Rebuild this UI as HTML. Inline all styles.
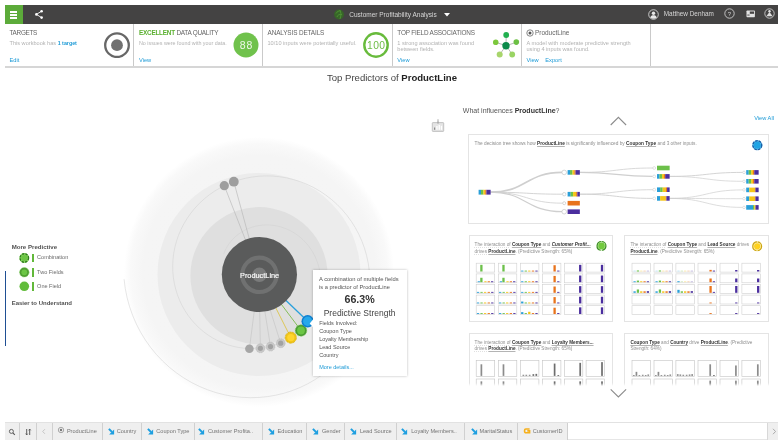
<!DOCTYPE html>
<html lang="en">
<head>
<meta charset="utf-8">
<title>Customer Profitability Analysis</title>
<style>
*{box-sizing:border-box;margin:0;padding:0}
html,body{width:783px;height:444px;overflow:hidden;background:#fff}
body{font-family:"Liberation Sans",sans-serif;color:#444;position:relative}
.abs{position:absolute}
.t{position:absolute;white-space:nowrap;line-height:1}
#topbar{position:absolute;left:5px;top:5px;width:773px;height:19px;background:#444343}
#menu{position:absolute;left:0;top:0;width:18px;height:19px;background:#5cab3a}
#menu i{position:absolute;left:5px;width:7.200px;height:1.500px;background:#fff}
.tb{color:#d6d6d6;font-size:6.5px}
#cards{position:absolute;left:5px;top:24px;width:773px;height:44px;border-bottom:2px solid #d6d6d6;background:#fff}
.card{position:absolute;top:0;height:42px;border-right:1px solid #cacaca}
.ct{font-size:6.4px;color:#646464;letter-spacing:-.2px}
.cs{font-size:5.6px;color:#b2b2b2}
.cl{font-size:5.7px;color:#1c9ad6}
b.g{color:#5bb030}
b.bl{color:#1c9ad6}
.h1{font-size:9.55px;color:#444}
.h1 b{color:#222}
.leg{font-size:5.55px;color:#6a6a6a}
.legb{font-size:6.1px;color:#505050;font-weight:bold}
.tip{position:absolute;left:313px;top:270px;width:93.600px;height:105.600px;background:#fff;box-shadow:0 0 2.500px rgba(0,0,0,.28)}
.tp{font-size:5.5px;color:#555}
.pc{position:absolute;background:#fff;border:1px solid #e4e4e4}
.pt{font-size:4.66px;color:#8e8e8e}
.pt b{color:#333;text-decoration:underline;text-decoration-color:#b4b4b4;text-decoration-thickness:.5px;text-underline-offset:.6px}
.pt i{font-weight:bold;color:#333;text-decoration:underline;text-decoration-color:#b4b4b4;text-decoration-thickness:.5px;text-underline-offset:.6px}
.pt u{text-decoration:underline dotted;text-decoration-color:#e0e0e0;text-decoration-thickness:.5px;text-underline-offset:.6px}
#bot{position:absolute;left:5px;top:422px;width:773px;height:18px;background:#fff;border-top:1px solid #e2e2e2;border-bottom:1px solid #e6e6e6}
.tab{position:absolute;top:0;height:17px;background:#efefef;border-right:.8px solid #d0d0d0}
.tl{font-size:5.6px;color:#747474;top:6.200px}
</style>
</head>
<body>

<!-- ================= TOP BAR ================= -->
<div id="topbar">
  <div id="menu"><i style="top:6px"></i><i style="top:9px"></i><i style="top:12px"></i></div>
  <svg class="abs" style="left:29px;top:4px" width="10" height="11" viewBox="0 0 10 11"><path d="M7.6 2.2 2.4 5.4 7.6 8.6" fill="none" stroke="#fff" stroke-width=".9"/><circle cx="7.6" cy="2.2" r="1.3" fill="#fff"/><circle cx="2.4" cy="5.4" r="1.3" fill="#fff"/><circle cx="7.6" cy="8.6" r="1.3" fill="#fff"/></svg>
  <svg class="abs" style="left:329px;top:4px" width="11" height="11" viewBox="0 0 11 11"><circle cx="5" cy="5.500" r="4.900" fill="#376628"/><path d="M2 4.500c1-2 3-3 5-2.300M3 8c.5-2 2.500-3 5-2.500M5.500 1c1.500 1.500 2 5 .5 9" fill="none" stroke="#4f9434" stroke-width=".9"/></svg>
  <span class="t tb" style="left:344.300px;top:7.100px">Customer Profitability Analysis</span>
  <svg class="abs" style="left:439px;top:8.300px" width="6" height="4" viewBox="0 0 6 4"><path d="M0 0h6L3 3.4z" fill="#fff"/></svg>
  <svg class="abs" style="left:643px;top:3.5px" width="11" height="11" viewBox="0 0 11 11"><circle cx="5.5" cy="5.5" r="4.8" fill="none" stroke="#e8e8e8" stroke-width=".8"/><circle cx="5.5" cy="4.2" r="1.7" fill="#e8e8e8"/><path d="M2.3 8.6c.4-2 1.6-2.4 3.2-2.4s2.8.4 3.2 2.4c-1.8 1.6-4.6 1.6-6.400 0z" fill="#e8e8e8"/></svg>
  <span class="t tb" style="left:658.800px;top:5.700px;font-size:6.4px">Matthew Denham</span>
  <svg class="abs" style="left:719px;top:3.100px" width="11" height="11" viewBox="0 0 11 11"><circle cx="5.500" cy="5.500" r="4.700" fill="none" stroke="#e0e0e0" stroke-width=".8"/><text x="5.500" y="7.700" font-size="6" fill="#d0d0d0" text-anchor="middle" font-family="Liberation Sans, sans-serif">?</text></svg>
  <svg class="abs" style="left:740.500px;top:5px" width="10" height="8" viewBox="0 0 10 8"><rect x=".5" y=".5" width="8.400" height="6.800" rx=".7" fill="#e2e2e2"/><rect x="3.800" y="1.500" width="4.200" height="2.300" fill="#444343"/><rect x="1.300" y="4.600" width="2.300" height=".9" fill="#444343"/></svg>
  <svg class="abs" style="left:759.300px;top:3.100px" width="11" height="11" viewBox="0 0 11 11"><circle cx="5.500" cy="5.500" r="4.700" fill="none" stroke="#e0e0e0" stroke-width=".8"/><circle cx="5.500" cy="3.300" r="1.200" fill="#e0e0e0"/><path d="M2.300 8.300 5.500 4 8.700 8.300z" fill="#e0e0e0"/></svg>
</div>

<!-- ================= CARDS ================= -->
<div id="cards">
  <div class="card" style="left:0;width:128.500px">
    <span class="t ct" style="left:4.500px;top:5.500px;letter-spacing:-.31px">TARGETS</span>
    <span class="t cs" style="left:4.500px;top:16.800px">This workbook has <b class="bl" style="font-size:5.300px">1 target</b></span>
    <span class="t cl" style="left:4.500px;top:33.500px">Edit</span>
    <svg class="abs" style="left:99px;top:7.500px" width="26" height="26" viewBox="0 0 26 26"><circle cx="13" cy="13.200" r="11.800" fill="#fff" stroke="#676767" stroke-width="2.300"/><circle cx="13" cy="13.200" r="5.900" fill="#707070"/></svg>
  </div>
  <div class="card" style="left:128.500px;width:129px">
    <span class="t ct" style="left:5.500px;top:5.500px;letter-spacing:-.24px"><b class="g">EXCELLENT</b> DATA QUALITY</span>
    <span class="t cs" style="left:5.500px;top:16.800px;font-size:5.35px">No issues were found with your data.</span>
    <span class="t cl" style="left:5.500px;top:33.500px">View</span>
    <svg class="abs" style="left:99.300px;top:7.500px" width="26" height="26" viewBox="0 0 26 26"><circle cx="13" cy="13" r="12.500" fill="#70c24c"/><text x="13.500" y="16.800" font-size="10.500" fill="#eef8e8" text-anchor="middle" letter-spacing=".9" font-family="Liberation Sans, sans-serif">88</text></svg>
  </div>
  <div class="card" style="left:257.500px;width:130px">
    <span class="t ct" style="left:5px;top:5.500px;letter-spacing:-.125px">ANALYSIS DETAILS</span>
    <span class="t cs" style="left:5px;top:16.800px">10/10 inputs were potentially useful.</span>
    <svg class="abs" style="left:100.500px;top:7.500px" width="26" height="26" viewBox="0 0 26 26"><circle cx="13" cy="13" r="11.700" fill="#fff" stroke="#68bb3c" stroke-width="2.400"/><text x="13.200" y="16.700" font-size="10.300" fill="#6cbc44" text-anchor="middle" letter-spacing=".4" font-family="Liberation Sans, sans-serif">100</text></svg>
  </div>
  <div class="card" style="left:387.500px;width:129.500px">
    <span class="t ct" style="left:4.800px;top:5.500px;letter-spacing:-.19px">TOP FIELD ASSOCIATIONS</span>
    <span class="t cs" style="left:4.800px;top:17.100px">1 strong association was found</span>
    <span class="t cs" style="left:4.800px;top:22.700px">between fields.</span>
    <span class="t cl" style="left:4.800px;top:33.500px">View</span>
    <svg class="abs" style="left:100px;top:7px" width="30" height="28" viewBox="0 0 30 28"><g stroke="#9a9a9a" stroke-width=".7"><path d="M13 14.700 13.200 4.200M13 14.700 23.500 11.300M13 14.700 2.700 11.300M13 14.700 6.700 23.500M13 14.700 19.400 23.500"/></g><circle cx="13.200" cy="4" r="2.900" fill="#22b050"/><circle cx="23.300" cy="11.100" r="2.800" fill="#6cc044"/><circle cx="2.700" cy="11.200" r="2.800" fill="#7cc83c"/><circle cx="6.700" cy="23.500" r="3" fill="#a8d56c"/><circle cx="19.200" cy="23.500" r="2.900" fill="#9ad464"/><circle cx="13" cy="14.700" r="3.700" fill="#0b8a4a"/></svg>
  </div>
  <div class="card" style="left:517px;width:129px">
    <svg class="abs" style="left:4px;top:5px" width="8" height="8" viewBox="0 0 8 8"><circle cx="4" cy="4" r="3.200" fill="none" stroke="#555" stroke-width=".7"/><circle cx="4" cy="4" r="1.500" fill="#555"/></svg>
    <span class="t ct" style="left:13px;top:5.600px;font-size:6.45px;letter-spacing:0">ProductLine</span>
    <span class="t cs" style="left:4.500px;top:17.100px">A model with moderate predictive strength</span>
    <span class="t cs" style="left:4.500px;top:22.700px">using 4 inputs was found.</span>
    <span class="t cl" style="left:4.500px;top:33.500px">View</span>
    <span class="t cl" style="left:23.300px;top:33.500px">Export</span>
  </div>
</div>

<span class="t h1" style="left:327px;top:72.900px">Top Predictors of <b>ProductLine</b></span>
<svg class="abs" style="left:0;top:90px" width="460" height="330" viewBox="0 90 460 330">
<defs><radialGradient id="og" cx="259" cy="272" r="135" gradientUnits="userSpaceOnUse"><stop offset="0" stop-color="#f4f4f4"/><stop offset=".86" stop-color="#f5f5f5"/><stop offset=".95" stop-color="#f9f9f9"/><stop offset="1" stop-color="#ffffff"/></radialGradient></defs>
<circle cx="259" cy="272" r="135" fill="url(#og)"/>
<circle cx="259" cy="274.5" r="101.500" fill="#ececec"/>
<circle cx="259" cy="275.7" r="68.600" fill="#dfdfdf"/>
<path d="M223.71 254.12 L224.76 251.41 L226.02 248.74 L227.5 246.13 L229.17 243.61 L231.05 241.18 L233.12 238.87 L235.37 236.69 L237.81 234.65 L240.42 232.77 L243.19 231.06 L246.11 229.53 L249.16 228.21 L252.34 227.09 L255.62 226.2 L259 225.53 L262.45 225.1 L265.97 224.92 L269.52 224.99 L273.1 225.32 L276.69 225.91 L280.26 226.76 L283.79 227.88 L287.27 229.25 L290.68 230.89 L294 232.79 L297.2 234.94 L300.28 237.33 L303.2 239.97 L305.96 242.83 L308.53 245.91 L310.89 249.19 L313.04 252.67 L314.95 256.32 L316.62 260.13 L318.02 264.09 L319.15 268.18 L319.99 272.37 L320.54 276.65 L320.78 280.99 L320.72 285.38 L320.34 289.79 L319.65 294.2 L318.63 298.59 L317.3 302.93 L315.65 307.2 L313.68 311.38 L311.41 315.45 L308.83 319.37 L305.96 323.13 L302.81 326.71 L299.38 330.08 L295.69 333.22 L291.77 336.12 L287.61 338.76 L283.25 341.11 L278.69 343.17 L273.97 344.91 L269.09 346.33 L264.1 347.4 L259 348.13 L253.83 348.5 L248.6 348.5 L243.35 348.13 L238.1 347.38 L232.88 346.26 L227.71 344.77 L222.63 342.9 L217.66 340.66 L212.82 338.06 L208.15 335.1 L203.66 331.8 L199.4 328.17 L195.36 324.22 L191.6 319.96 L188.12 315.43 L184.94 310.62 L182.09 305.57 L179.59 300.3 L177.45 294.83 L175.7 289.19 L174.33 283.4 L173.37 277.49 L172.82 271.49 L172.69 265.43 L173 259.34 L173.73 253.24 L174.9 247.17 L176.5 241.17 L178.54 235.26 L181 229.47 L183.87 223.83 L187.16 218.37 L190.84 213.13 L194.91 208.13 L199.34 203.4 L204.13 198.97 L209.24 194.86 L214.66 191.1 L220.36 187.71 L226.32 184.71 L232.51 182.12 L238.91 179.97 L245.47 178.25 L252.18 177 L259 176.21 L265.89 175.9 L272.83 176.08 L279.78 176.75 L286.7 177.91 L293.55 179.56 L300.32 181.7 L306.95 184.33 L313.41 187.43 L319.67 190.99 L325.7 195.01 L331.47 199.46 L336.93 204.33 L342.07 209.6 L346.85 215.25 L351.24 221.24 L355.22 227.57 L358.77 234.19 L361.86 241.08 L364.47 248.2 L366.59 255.53 L368.2 263.02 L369.28 270.65 L369.83 278.37 L369.83 286.15 L369.29 293.95 L368.2 301.73 L366.55 309.45 L364.36 317.07 L361.63 324.55 L358.36 331.87 L354.57 338.96 L350.27 345.81 L345.48 352.37 L340.22 358.61 L334.51 364.49 L328.37 369.98 L321.83 375.05 L314.92 379.67 L307.67 383.82 L300.11 387.46 L292.29 390.58 L284.22 393.16 L275.96 395.17 L267.54 396.6 L259 397.45 L250.39 397.7 L241.74 397.34 L233.1 396.37 L224.51 394.79 L216.01 392.61 L207.65 389.82 L199.48 386.45 L191.52 382.49 L183.83 377.96 L176.45 372.88 L169.4 367.28 L162.74 361.17 L156.5 354.58 L150.71 347.54 L145.4 340.08 L140.61 332.24 L136.37 324.05 L132.69 315.54 L129.6 306.76 L127.12 297.75 L125.28 288.55 L124.08 279.21" fill="none" stroke="#d2d2d2" stroke-width=".55"/>
<path d="M224.3 185.7 L245.9 240.97" stroke="#b4b4b4" stroke-width=".6" fill="none"/>
<path d="M233.8 181.7 L249.57 239.76" stroke="#b4b4b4" stroke-width=".6" fill="none"/>
<path d="M249.4 348.8 L254.39 310.2" stroke="#c2c2c2" stroke-width=".6" fill="none"/>
<path d="M260.4 348.3 L259.68 310.49" stroke="#c2c2c2" stroke-width=".6" fill="none"/>
<path d="M270.5 346.6 L264.67 310.05" stroke="#c2c2c2" stroke-width=".6" fill="none"/>
<path d="M280.7 343.2 L269.84 308.83" stroke="#c2c2c2" stroke-width=".6" fill="none"/>
<path d="M290.8 337.6 L275.2 306.65" stroke="#dcc44a" stroke-width=".9" fill="none"/>
<path d="M301 330.5 L280.6 303.3" stroke="#7cba4c" stroke-width=".9" fill="none"/>
<path d="M307.7 321.3 L284.96 299.44" stroke="#2aa0dc" stroke-width="1.3" fill="none"/>
<circle cx="259.4" cy="274.5" r="37.600" fill="#5a5b5b"/>
<circle cx="259.4" cy="274.8" r="17.200" fill="none" stroke="#707171" stroke-width="4.200"/>
<circle cx="259.4" cy="274.8" r="7.200" fill="#7a7b7b"/>
<circle cx="224.3" cy="185.7" r="4.6" fill="#9e9e9e"/>
<circle cx="233.8" cy="181.7" r="4.9" fill="#9e9e9e"/>
<circle cx="249.4" cy="348.8" r="4.300" fill="#a6a6a6"/>
<circle cx="260.4" cy="348.3" r="4.500" fill="#c8c8c8" stroke="#b0b0b0" stroke-width=".5" stroke-dasharray="1.600 .7"/>
<circle cx="260.4" cy="348.3" r="2.600" fill="#a2a2a2"/>
<circle cx="270.5" cy="346.6" r="4.500" fill="#c8c8c8" stroke="#b0b0b0" stroke-width=".5" stroke-dasharray="1.600 .7"/>
<circle cx="270.5" cy="346.6" r="2.600" fill="#a2a2a2"/>
<circle cx="280.7" cy="343.2" r="4.500" fill="#c8c8c8" stroke="#b0b0b0" stroke-width=".5" stroke-dasharray="1.600 .7"/>
<circle cx="280.7" cy="343.2" r="2.600" fill="#a2a2a2"/>
<circle cx="290.8" cy="337.6" r="5.600" fill="#f0c419" stroke="#d9ae0a" stroke-width=".7" stroke-dasharray="3 .8"/>
<circle cx="290.8" cy="337.6" r="3.600" fill="#ffd52e"/>
<circle cx="301" cy="330.5" r="5.800" fill="#4a9a32" />
<circle cx="301" cy="330.5" r="5.800" fill="none" stroke="#7fce5a" stroke-width=".6" stroke-dasharray="2.400 1.200"/>
<circle cx="301" cy="330.5" r="3.900" fill="#6cc644"/>
<circle cx="307.7" cy="321.3" r="6.200" fill="#0f7fd0"/>
<circle cx="307.7" cy="321.3" r="4.700" fill="#27a8ea"/>
<text x="259.6" y="277.500" font-size="7.350" fill="#fff" text-anchor="middle" font-family="Liberation Sans, sans-serif" stroke="#fff" stroke-width=".15">ProductLine</text>
</svg>
<svg class="abs" style="left:431px;top:118px" width="14" height="15" viewBox="0 0 14 15"><rect x="1.300" y="4.600" width="11.400" height="8.800" rx=".6" fill="#e4e4e4" stroke="#bdbdbd" stroke-width=".9"/><rect x="3" y="9.500" width="1.200" height="2.300" fill="#8a8a8a"/><rect x="5.300" y="8" width="1.300" height="3.800" fill="#fff"/><rect x="7.600" y="7" width="1.300" height="4.800" fill="#fff"/><rect x="9.800" y="7.800" width="1.300" height="4" fill="#fff"/><path d="M7 1.200v4" stroke="#bdbdbd" stroke-width="1.300"/><circle cx="7" cy="4.600" r="1.100" fill="#b0b0b0"/></svg>
<div class="abs" style="left:4.700px;top:271.300px;width:1.500px;height:74.500px;background:#1f4f93"></div>
<span class="t legb" style="left:11.700px;top:244.200px">More Predictive</span>
<span class="t legb" style="left:11.700px;top:300.100px;font-size:6px">Easier to Understand</span>
<div class="abs" style="left:32.300px;top:253.7px;width:1.400px;height:8.800px;background:#62b83a"></div>
<span class="t leg" style="left:37.100px;top:254.7px">Combination</span>
<div class="abs" style="left:32.300px;top:268.1px;width:1.400px;height:8.800px;background:#62b83a"></div>
<span class="t leg" style="left:37.100px;top:269.5px">Two Fields</span>
<div class="abs" style="left:32.300px;top:282.3px;width:1.400px;height:8.800px;background:#62b83a"></div>
<span class="t leg" style="left:37.100px;top:283.8px">One Field</span>
<svg class="abs" style="left:18px;top:251px" width="14" height="42" viewBox="18 251 14 42">
<circle cx="24.300" cy="258" r="4.900" fill="#8ad662"/><circle cx="24.300" cy="258" r="4.200" fill="none" stroke="#2f7d1e" stroke-width="1.400" stroke-dasharray="2.300 1.100"/><circle cx="24.300" cy="258" r="3.100" fill="#6cc644"/>
<circle cx="24.300" cy="272.300" r="4.800" fill="#4f9e32"/><circle cx="24.300" cy="272.300" r="4.800" fill="none" stroke="#8ad868" stroke-width=".5" stroke-dasharray="2.500 1"/><circle cx="24.300" cy="272.300" r="2.900" fill="#6cc644"/>
<circle cx="24.300" cy="286.300" r="4.800" fill="#62bc3c"/>
</svg>
<div class="tip">
<span class="t tp" style="left:6px;top:7px;font-size:5.800px">A combination of multiple fields</span>
<span class="t tp" style="left:6px;top:15.100px;font-size:5.700px">is a predictor of ProductLine</span>
<span class="t" style="left:-.6px;width:94.400px;text-align:center;top:23.500px;font-size:10.700px;font-weight:bold;color:#333">66.3%</span>
<span class="t" style="left:-.6px;width:94.400px;text-align:center;top:38.500px;font-size:8.500px;color:#444">Predictive Strength</span>
<span class="t tp" style="left:6.200px;top:51px">Fields Involved:</span>
<span class="t tp" style="left:6.200px;top:59px">Coupon Type</span>
<span class="t tp" style="left:6.200px;top:67px">Loyalty Membership</span>
<span class="t tp" style="left:6.200px;top:75px">Lead Source</span>
<span class="t tp" style="left:6.200px;top:83px">Country</span>
<span class="t tp" style="left:6.200px;top:94.900px;color:#1c9ad6">More details...</span>
</div>
<svg class="abs" style="left:307px;top:317px" width="6" height="11" viewBox="0 0 6 11"><path d="M6 2.600 2.700 6.400 6 10.200z" fill="#fff"/></svg>
<span class="t" style="left:462.800px;top:107.300px;font-size:7.030px;color:#555">What influences <b style="color:#333">ProductLine</b>?</span>
<span class="t" style="left:754.200px;top:116.100px;font-size:5.670px;color:#1c9ad6">View All</span>
<svg class="abs" style="left:608px;top:115px" width="21" height="12" viewBox="0 0 21 12"><path d="M2.700 10 10.400 2.300 18.100 10" fill="none" stroke="#8c8c8c" stroke-width="1.100"/></svg>
<div class="pc" style="left:468px;top:134px;width:301px;height:90px"></div>
<span class="t pt" style="left:474.500px;top:142.200px;font-size:4.760px">The decision tree shows how <b>ProductLine</b> is significantly influenced by <b>Coupon Type</b> and 3 other inputs.</span>
<svg class="abs" style="left:468px;top:134px" width="301" height="90" viewBox="468 134 301 90">
<path d="M490.6 192.2 C526.25 192.2 526.25 172.4 561.9 172.4" fill="none" stroke="#cfcfcf" stroke-width="1.7"/>
<path d="M490.6 192.2 C526.55 192.2 526.55 194.2 562.5 194.2" fill="none" stroke="#cfcfcf" stroke-width="0.9"/>
<path d="M490.6 192.2 C526.65 192.2 526.65 203.2 562.7 203.2" fill="none" stroke="#cfcfcf" stroke-width="0.8"/>
<path d="M490.6 192.2 C526.25 192.2 526.25 211.7 561.9 211.7" fill="none" stroke="#cfcfcf" stroke-width="1.2"/>
<path d="M579.8 172.4 C616.35 172.4 616.35 168 652.9 168" fill="none" stroke="#cfcfcf" stroke-width="0.8"/>
<path d="M579.8 172.4 C616.2 172.4 616.2 176.4 652.6 176.4" fill="none" stroke="#cfcfcf" stroke-width="1.1"/>
<path d="M579.8 194.2 C616.35 194.2 616.35 189.7 652.9 189.7" fill="none" stroke="#cfcfcf" stroke-width="0.8"/>
<path d="M579.8 194.2 C616.25 194.2 616.25 198.4 652.7 198.4" fill="none" stroke="#cfcfcf" stroke-width="0.9"/>
<path d="M669.6 176.4 C706.15 176.4 706.15 172.4 742.7 172.4" fill="none" stroke="#cfcfcf" stroke-width="0.9"/>
<path d="M669.6 176.4 C706.15 176.4 706.15 181.3 742.7 181.3" fill="none" stroke="#cfcfcf" stroke-width="0.7"/>
<path d="M669.6 198.4 C706.15 198.4 706.15 189.9 742.7 189.9" fill="none" stroke="#cfcfcf" stroke-width="0.7"/>
<path d="M669.6 198.4 C706.15 198.4 706.15 198.7 742.7 198.7" fill="none" stroke="#cfcfcf" stroke-width="0.7"/>
<path d="M669.6 198.4 C706.15 198.4 706.15 207.4 742.7 207.4" fill="none" stroke="#cfcfcf" stroke-width="0.7"/>
<rect x="478.6" y="189.8" width="2.45" height="4.8" fill="#2a9fd8"/>
<rect x="481" y="189.8" width="2.45" height="4.8" fill="#6cc04a"/>
<rect x="483.4" y="189.8" width="1.85" height="4.8" fill="#f5c518"/>
<rect x="485.2" y="189.8" width="1.25" height="4.8" fill="#e8731c"/>
<rect x="486.4" y="189.8" width="4.25" height="4.8" fill="#4b2e9e"/>
<circle cx="564.2" cy="172.4" r="2.3" fill="#fff" stroke="#bdbdbd" stroke-width=".6"/>
<rect x="567.6" y="170.1" width="2.49" height="4.6" fill="#2a9fd8"/>
<rect x="570.04" y="170.1" width="2.49" height="4.6" fill="#6cc04a"/>
<rect x="572.48" y="170.1" width="1.88" height="4.6" fill="#f5c518"/>
<rect x="574.31" y="170.1" width="1.27" height="4.6" fill="#e8731c"/>
<rect x="575.53" y="170.1" width="4.32" height="4.6" fill="#4b2e9e"/>
<circle cx="564.2" cy="194.2" r="1.7" fill="#fff" stroke="#bdbdbd" stroke-width=".6"/>
<rect x="567.6" y="191.9" width="3.1" height="4.6" fill="#2a9fd8"/>
<rect x="570.65" y="191.9" width="2.49" height="4.6" fill="#6cc04a"/>
<rect x="573.09" y="191.9" width="3.1" height="4.6" fill="#f5c518"/>
<rect x="576.14" y="191.9" width="1.27" height="4.6" fill="#e8731c"/>
<rect x="577.36" y="191.9" width="2.49" height="4.6" fill="#4b2e9e"/>
<circle cx="564.2" cy="203.2" r="1.5" fill="#fff" stroke="#bdbdbd" stroke-width=".6"/>
<rect x="567.6" y="200.9" width="12.25" height="4.6" fill="#e8731c"/>
<circle cx="564.2" cy="211.7" r="2.3" fill="#fff" stroke="#bdbdbd" stroke-width=".6"/>
<rect x="567.6" y="209.4" width="12.25" height="4.6" fill="#4b2e9e"/>
<circle cx="654.2" cy="168" r="1.400" fill="#fff" stroke="#c4c4c4" stroke-width=".5"/>
<rect x="657" y="165.7" width="12.65" height="4.6" fill="#6cc04a"/>
<circle cx="654.2" cy="176.4" r="1.400" fill="#fff" stroke="#c4c4c4" stroke-width=".5"/>
<rect x="657" y="174.1" width="2.57" height="4.6" fill="#2a9fd8"/>
<rect x="659.52" y="174.1" width="2.57" height="4.6" fill="#6cc04a"/>
<rect x="662.04" y="174.1" width="1.94" height="4.6" fill="#f5c518"/>
<rect x="663.93" y="174.1" width="1.31" height="4.6" fill="#e8731c"/>
<rect x="665.19" y="174.1" width="4.46" height="4.6" fill="#4b2e9e"/>
<circle cx="654.2" cy="189.7" r="1.400" fill="#fff" stroke="#c4c4c4" stroke-width=".5"/>
<rect x="657" y="187.4" width="3.2" height="4.6" fill="#2a9fd8"/>
<rect x="660.15" y="187.4" width="2.57" height="4.6" fill="#6cc04a"/>
<rect x="662.67" y="187.4" width="3.2" height="4.6" fill="#f5c518"/>
<rect x="665.82" y="187.4" width="1.31" height="4.6" fill="#e8731c"/>
<rect x="667.08" y="187.4" width="2.57" height="4.6" fill="#4b2e9e"/>
<circle cx="654.2" cy="198.4" r="1.400" fill="#fff" stroke="#c4c4c4" stroke-width=".5"/>
<rect x="657" y="196.1" width="3.2" height="4.6" fill="#2a9fd8"/>
<rect x="660.15" y="196.1" width="5.72" height="4.6" fill="#f5c518"/>
<rect x="665.82" y="196.1" width="0.68" height="4.6" fill="#e8731c"/>
<rect x="666.45" y="196.1" width="3.2" height="4.6" fill="#4b2e9e"/>
<circle cx="744" cy="172.4" r="1.300" fill="#fff" stroke="#c4c4c4" stroke-width=".5"/>
<rect x="746.2" y="170.1" width="2.53" height="4.6" fill="#2a9fd8"/>
<rect x="748.68" y="170.1" width="2.53" height="4.6" fill="#6cc04a"/>
<rect x="751.16" y="170.1" width="1.91" height="4.6" fill="#f5c518"/>
<rect x="753.02" y="170.1" width="1.29" height="4.6" fill="#e8731c"/>
<rect x="754.26" y="170.1" width="4.39" height="4.6" fill="#4b2e9e"/>
<circle cx="744" cy="181.3" r="1.300" fill="#fff" stroke="#c4c4c4" stroke-width=".5"/>
<rect x="746.2" y="179" width="2.53" height="4.6" fill="#2a9fd8"/>
<rect x="748.68" y="179" width="2.53" height="4.6" fill="#6cc04a"/>
<rect x="751.16" y="179" width="1.91" height="4.6" fill="#f5c518"/>
<rect x="753.02" y="179" width="1.29" height="4.6" fill="#e8731c"/>
<rect x="754.26" y="179" width="4.39" height="4.6" fill="#4b2e9e"/>
<circle cx="744" cy="189.9" r="1.300" fill="#fff" stroke="#c4c4c4" stroke-width=".5"/>
<rect x="746.2" y="187.6" width="3.15" height="4.6" fill="#2a9fd8"/>
<rect x="749.3" y="187.6" width="5.63" height="4.6" fill="#f5c518"/>
<rect x="754.88" y="187.6" width="0.67" height="4.6" fill="#e8731c"/>
<rect x="755.5" y="187.6" width="3.15" height="4.6" fill="#4b2e9e"/>
<circle cx="744" cy="198.7" r="1.300" fill="#fff" stroke="#c4c4c4" stroke-width=".5"/>
<rect x="746.2" y="196.4" width="3.15" height="4.6" fill="#2a9fd8"/>
<rect x="749.3" y="196.4" width="5.63" height="4.6" fill="#f5c518"/>
<rect x="754.88" y="196.4" width="0.67" height="4.6" fill="#e8731c"/>
<rect x="755.5" y="196.4" width="3.15" height="4.6" fill="#4b2e9e"/>
<circle cx="744" cy="207.4" r="1.300" fill="#fff" stroke="#c4c4c4" stroke-width=".5"/>
<rect x="746.2" y="205.1" width="6.87" height="4.6" fill="#2a9fd8"/>
<rect x="753.02" y="205.1" width="1.29" height="4.6" fill="#6cc04a"/>
<rect x="754.26" y="205.1" width="1.29" height="4.6" fill="#f5c518"/>
<rect x="755.5" y="205.1" width="3.15" height="4.6" fill="#4b2e9e"/>
<circle cx="757.300" cy="145.200" r="5" fill="#6cc4f0"/><circle cx="757.300" cy="145.200" r="4.400" fill="none" stroke="#1a5fa6" stroke-width="1.400" stroke-dasharray="2.700 .9"/><circle cx="757.300" cy="145.200" r="3.500" fill="#1fa4e4"/>
</svg>
<div class="pc" style="left:469px;top:235px;width:144px;height:87px"></div>
<div class="pc" style="left:624px;top:235px;width:145px;height:87px"></div>
<span class="t pt" style="left:474.600px;top:243.200px"><u>The interaction of</u> <b>Coupon Type</b> and <i>Customer Profit...</i></span>
<span class="t pt" style="left:474.600px;top:249.800px"><u>drives</u> <b>ProductLine</b>. (Predictive Strength: 65%)</span>
<span class="t pt" style="left:630.400px;top:243.200px"><u>The interaction of</u> <b>Coupon Type</b> and <b>Lead Source</b> drives</span>
<span class="t pt" style="left:630.400px;top:249.800px"><b>ProductLine</b>. (Predictive Strength: 65%)</span>
<svg class="abs" style="left:468px;top:235px" width="302" height="88" viewBox="468 235 302 88">
<circle cx="601.500" cy="245.900" r="4.900" fill="#d2efc0"/><circle cx="601.500" cy="245.900" r="4.400" fill="none" stroke="#3f8f26" stroke-width="1.200" stroke-dasharray="12.500 1.300" transform="rotate(-84 601.500 245.900)"/><circle cx="601.500" cy="245.900" r="3.300" fill="#72ca3e"/>
<circle cx="757.200" cy="246.300" r="4.900" fill="#fbeeb4"/><circle cx="757.200" cy="246.300" r="4.400" fill="none" stroke="#cca612" stroke-width="1.200" stroke-dasharray="12.500 1.300" transform="rotate(-84 757.200 246.300)"/><circle cx="757.200" cy="246.300" r="3.100" fill="#ffd21e"/>
<rect x="476.2" y="263.2" width="18.5" height="8.9" fill="#fff" stroke="#cfcfcf" stroke-width=".6"/>
<rect x="480.23" y="264.84" width="2.3" height="6.66" fill="#6cc04a"/>
<rect x="498.3" y="263.2" width="18.5" height="8.9" fill="#fff" stroke="#cfcfcf" stroke-width=".6"/>
<rect x="502.33" y="264.84" width="2.3" height="6.66" fill="#6cc04a"/>
<rect x="520.4" y="263.2" width="18.5" height="8.9" fill="#fff" stroke="#cfcfcf" stroke-width=".6"/>
<rect x="521.1" y="270.6" width="2.3" height="0.9" fill="#2a9fd8"/>
<rect x="524.62" y="270.6" width="2.3" height="0.9" fill="#6cc04a"/>
<rect x="528.13" y="270.6" width="2.3" height="0.9" fill="#f5c518"/>
<rect x="531.83" y="270.6" width="2.3" height="0.9" fill="#e8731c"/>
<rect x="535.35" y="270.6" width="2.3" height="0.9" fill="#4b2e9e"/>
<rect x="542.4" y="263.2" width="18.5" height="8.9" fill="#fff" stroke="#cfcfcf" stroke-width=".6"/>
<rect x="553.46" y="265.21" width="2.3" height="6.29" fill="#e8731c"/>
<rect x="557.16" y="270.6" width="2.3" height="0.9" fill="#4b2e9e"/>
<rect x="564.3" y="263.2" width="18.5" height="8.9" fill="#fff" stroke="#cfcfcf" stroke-width=".6"/>
<rect x="579.06" y="264.84" width="2.3" height="6.66" fill="#4b2e9e"/>
<rect x="586.1" y="263.2" width="18.5" height="8.9" fill="#fff" stroke="#cfcfcf" stroke-width=".6"/>
<rect x="600.86" y="264.84" width="2.3" height="6.66" fill="#4b2e9e"/>
<rect x="476.2" y="273.9" width="18.5" height="8.9" fill="#fff" stroke="#cfcfcf" stroke-width=".6"/>
<rect x="480.23" y="277.76" width="2.3" height="4.44" fill="#6cc04a"/>
<rect x="484.3" y="281.3" width="2.3" height="0.9" fill="#f5c518"/>
<rect x="487.63" y="281.3" width="2.3" height="0.9" fill="#e8731c"/>
<rect x="490.96" y="281.3" width="2.3" height="0.9" fill="#4b2e9e"/>
<rect x="477.64" y="281.3" width="2.3" height="0.9" fill="#2a9fd8"/>
<rect x="498.3" y="273.9" width="18.5" height="8.9" fill="#fff" stroke="#cfcfcf" stroke-width=".6"/>
<rect x="502.33" y="277.76" width="2.3" height="4.44" fill="#6cc04a"/>
<rect x="506.4" y="281.3" width="2.3" height="0.9" fill="#f5c518"/>
<rect x="509.73" y="281.3" width="2.3" height="0.9" fill="#e8731c"/>
<rect x="513.06" y="281.3" width="2.3" height="0.9" fill="#4b2e9e"/>
<rect x="499.74" y="281.3" width="2.3" height="0.9" fill="#2a9fd8"/>
<rect x="520.4" y="273.9" width="18.5" height="8.9" fill="#fff" stroke="#cfcfcf" stroke-width=".6"/>
<rect x="521.1" y="281.3" width="2.3" height="0.9" fill="#2a9fd8"/>
<rect x="524.62" y="281.3" width="2.3" height="0.9" fill="#6cc04a"/>
<rect x="528.13" y="281.3" width="2.3" height="0.9" fill="#f5c518"/>
<rect x="531.83" y="281.3" width="2.3" height="0.9" fill="#e8731c"/>
<rect x="535.35" y="281.3" width="2.3" height="0.9" fill="#4b2e9e"/>
<rect x="542.4" y="273.9" width="18.5" height="8.9" fill="#fff" stroke="#cfcfcf" stroke-width=".6"/>
<rect x="553.46" y="275.91" width="2.3" height="6.29" fill="#e8731c"/>
<rect x="557.16" y="281.3" width="2.3" height="0.9" fill="#4b2e9e"/>
<rect x="564.3" y="273.9" width="18.5" height="8.9" fill="#fff" stroke="#cfcfcf" stroke-width=".6"/>
<rect x="579.06" y="275.54" width="2.3" height="6.66" fill="#4b2e9e"/>
<rect x="586.1" y="273.9" width="18.5" height="8.9" fill="#fff" stroke="#cfcfcf" stroke-width=".6"/>
<rect x="600.86" y="275.54" width="2.3" height="6.66" fill="#4b2e9e"/>
<rect x="476.2" y="284.5" width="18.5" height="8.9" fill="#fff" stroke="#cfcfcf" stroke-width=".6"/>
<rect x="476.9" y="291.9" width="2.3" height="0.9" fill="#2a9fd8"/>
<rect x="480.42" y="291.9" width="2.3" height="0.9" fill="#6cc04a"/>
<rect x="483.93" y="291.9" width="2.3" height="0.9" fill="#f5c518"/>
<rect x="487.63" y="291.9" width="2.3" height="0.9" fill="#e8731c"/>
<rect x="491.14" y="291.9" width="2.3" height="0.9" fill="#4b2e9e"/>
<rect x="498.3" y="284.5" width="18.5" height="8.9" fill="#fff" stroke="#cfcfcf" stroke-width=".6"/>
<rect x="499" y="291.9" width="2.3" height="0.9" fill="#2a9fd8"/>
<rect x="502.52" y="291.9" width="2.3" height="0.9" fill="#6cc04a"/>
<rect x="506.03" y="291.9" width="2.3" height="0.9" fill="#f5c518"/>
<rect x="509.73" y="291.9" width="2.3" height="0.9" fill="#e8731c"/>
<rect x="513.25" y="291.9" width="2.3" height="0.9" fill="#4b2e9e"/>
<rect x="520.4" y="284.5" width="18.5" height="8.9" fill="#fff" stroke="#cfcfcf" stroke-width=".6"/>
<rect x="521.1" y="291.9" width="2.3" height="0.9" fill="#2a9fd8"/>
<rect x="524.62" y="291.9" width="2.3" height="0.9" fill="#6cc04a"/>
<rect x="528.13" y="291.9" width="2.3" height="0.9" fill="#f5c518"/>
<rect x="531.83" y="291.9" width="2.3" height="0.9" fill="#e8731c"/>
<rect x="535.35" y="291.9" width="2.3" height="0.9" fill="#4b2e9e"/>
<rect x="542.4" y="284.5" width="18.5" height="8.9" fill="#fff" stroke="#cfcfcf" stroke-width=".6"/>
<rect x="553.46" y="286.51" width="2.3" height="6.29" fill="#e8731c"/>
<rect x="557.16" y="291.9" width="2.3" height="0.9" fill="#4b2e9e"/>
<rect x="564.3" y="284.5" width="18.5" height="8.9" fill="#fff" stroke="#cfcfcf" stroke-width=".6"/>
<rect x="579.06" y="286.14" width="2.3" height="6.66" fill="#4b2e9e"/>
<rect x="586.1" y="284.5" width="18.5" height="8.9" fill="#fff" stroke="#cfcfcf" stroke-width=".6"/>
<rect x="600.86" y="286.14" width="2.3" height="6.66" fill="#4b2e9e"/>
<rect x="476.2" y="295.1" width="18.5" height="8.9" fill="#fff" stroke="#cfcfcf" stroke-width=".6"/>
<rect x="476.9" y="302.5" width="2.3" height="0.9" fill="#2a9fd8"/>
<rect x="480.42" y="302.5" width="2.3" height="0.9" fill="#6cc04a"/>
<rect x="483.93" y="302.5" width="2.3" height="0.9" fill="#f5c518"/>
<rect x="487.63" y="302.5" width="2.3" height="0.9" fill="#e8731c"/>
<rect x="491.14" y="302.5" width="2.3" height="0.9" fill="#4b2e9e"/>
<rect x="498.3" y="295.1" width="18.5" height="8.9" fill="#fff" stroke="#cfcfcf" stroke-width=".6"/>
<rect x="499" y="302.5" width="2.3" height="0.9" fill="#2a9fd8"/>
<rect x="502.52" y="302.5" width="2.3" height="0.9" fill="#6cc04a"/>
<rect x="506.03" y="302.5" width="2.3" height="0.9" fill="#f5c518"/>
<rect x="509.73" y="302.5" width="2.3" height="0.9" fill="#e8731c"/>
<rect x="513.25" y="302.5" width="2.3" height="0.9" fill="#4b2e9e"/>
<rect x="520.4" y="295.1" width="18.5" height="8.9" fill="#fff" stroke="#cfcfcf" stroke-width=".6"/>
<rect x="521.1" y="301.55" width="2.3" height="1.85" fill="#2a9fd8"/>
<rect x="524.62" y="302.5" width="2.3" height="0.9" fill="#6cc04a"/>
<rect x="528.13" y="302.5" width="2.3" height="0.9" fill="#f5c518"/>
<rect x="531.83" y="302.5" width="2.3" height="0.9" fill="#e8731c"/>
<rect x="535.35" y="302.5" width="2.3" height="0.9" fill="#4b2e9e"/>
<rect x="542.4" y="295.1" width="18.5" height="8.9" fill="#fff" stroke="#cfcfcf" stroke-width=".6"/>
<rect x="553.46" y="297.11" width="2.3" height="6.29" fill="#e8731c"/>
<rect x="557.16" y="302.5" width="2.3" height="0.9" fill="#4b2e9e"/>
<rect x="564.3" y="295.1" width="18.5" height="8.9" fill="#fff" stroke="#cfcfcf" stroke-width=".6"/>
<rect x="579.06" y="296.74" width="2.3" height="6.66" fill="#4b2e9e"/>
<rect x="586.1" y="295.1" width="18.5" height="8.9" fill="#fff" stroke="#cfcfcf" stroke-width=".6"/>
<rect x="600.86" y="296.74" width="2.3" height="6.66" fill="#4b2e9e"/>
<rect x="476.2" y="305.7" width="18.5" height="8.9" fill="#fff" stroke="#cfcfcf" stroke-width=".6"/>
<rect x="476.9" y="313.1" width="2.3" height="0.9" fill="#2a9fd8"/>
<rect x="480.42" y="313.1" width="2.3" height="0.9" fill="#6cc04a"/>
<rect x="483.93" y="313.1" width="2.3" height="0.9" fill="#f5c518"/>
<rect x="487.63" y="313.1" width="2.3" height="0.9" fill="#e8731c"/>
<rect x="491.14" y="313.1" width="2.3" height="0.9" fill="#4b2e9e"/>
<rect x="498.3" y="305.7" width="18.5" height="8.9" fill="#fff" stroke="#cfcfcf" stroke-width=".6"/>
<rect x="499" y="313.1" width="2.3" height="0.9" fill="#2a9fd8"/>
<rect x="502.52" y="313.1" width="2.3" height="0.9" fill="#6cc04a"/>
<rect x="506.03" y="313.1" width="2.3" height="0.9" fill="#f5c518"/>
<rect x="509.73" y="313.1" width="2.3" height="0.9" fill="#e8731c"/>
<rect x="513.25" y="313.1" width="2.3" height="0.9" fill="#4b2e9e"/>
<rect x="520.4" y="305.7" width="18.5" height="8.9" fill="#fff" stroke="#cfcfcf" stroke-width=".6"/>
<rect x="521.1" y="312.15" width="2.3" height="1.85" fill="#2a9fd8"/>
<rect x="524.62" y="313.1" width="2.3" height="0.9" fill="#6cc04a"/>
<rect x="528.13" y="311.78" width="2.3" height="2.22" fill="#f5c518"/>
<rect x="531.83" y="313.1" width="2.3" height="0.9" fill="#e8731c"/>
<rect x="535.35" y="313.1" width="2.3" height="0.9" fill="#4b2e9e"/>
<rect x="542.4" y="305.7" width="18.5" height="8.9" fill="#fff" stroke="#cfcfcf" stroke-width=".6"/>
<rect x="553.46" y="307.71" width="2.3" height="6.29" fill="#e8731c"/>
<rect x="557.16" y="313.1" width="2.3" height="0.9" fill="#4b2e9e"/>
<rect x="564.3" y="305.7" width="18.5" height="8.9" fill="#fff" stroke="#cfcfcf" stroke-width=".6"/>
<rect x="579.06" y="307.34" width="2.3" height="6.66" fill="#4b2e9e"/>
<rect x="586.1" y="305.7" width="18.5" height="8.9" fill="#fff" stroke="#cfcfcf" stroke-width=".6"/>
<rect x="600.86" y="307.34" width="2.3" height="6.66" fill="#4b2e9e"/>
<rect x="632" y="263.2" width="18.5" height="8.9" fill="#fff" stroke="#cfcfcf" stroke-width=".6"/>
<rect x="636.77" y="270.46" width="2.3" height="1.04" fill="#6cc04a"/>
<rect x="633.44" y="270.6" width="2.3" height="0.9" fill="#bfe2f3"/>
<rect x="640.1" y="270.6" width="2.3" height="0.9" fill="#fbeaa8"/>
<rect x="643.43" y="270.6" width="2.3" height="0.9" fill="#f6cfae"/>
<rect x="646.76" y="270.6" width="2.3" height="0.9" fill="#c4b9e0"/>
<rect x="654" y="263.2" width="18.5" height="8.9" fill="#fff" stroke="#cfcfcf" stroke-width=".6"/>
<rect x="658.77" y="270.46" width="2.3" height="1.04" fill="#6cc04a"/>
<rect x="655.44" y="270.6" width="2.3" height="0.9" fill="#bfe2f3"/>
<rect x="662.1" y="270.6" width="2.3" height="0.9" fill="#fbeaa8"/>
<rect x="665.43" y="270.6" width="2.3" height="0.9" fill="#f6cfae"/>
<rect x="668.76" y="270.6" width="2.3" height="0.9" fill="#c4b9e0"/>
<rect x="675.9" y="263.2" width="18.5" height="8.9" fill="#fff" stroke="#cfcfcf" stroke-width=".6"/>
<rect x="677.34" y="270.6" width="2.3" height="0.9" fill="#bfe2f3"/>
<rect x="680.67" y="270.6" width="2.3" height="0.9" fill="#cfe9bf"/>
<rect x="684" y="270.6" width="2.3" height="0.9" fill="#fbeaa8"/>
<rect x="687.33" y="270.6" width="2.3" height="0.9" fill="#f6cfae"/>
<rect x="690.66" y="270.6" width="2.3" height="0.9" fill="#c4b9e0"/>
<rect x="698" y="263.2" width="18.5" height="8.9" fill="#fff" stroke="#cfcfcf" stroke-width=".6"/>
<rect x="709.43" y="269.87" width="2.3" height="1.63" fill="#e8731c"/>
<rect x="712.76" y="270.6" width="2.3" height="0.9" fill="#4b2e9e"/>
<rect x="720" y="263.2" width="18.5" height="8.9" fill="#fff" stroke="#cfcfcf" stroke-width=".6"/>
<rect x="735.13" y="270.02" width="2.3" height="1.48" fill="#4b2e9e"/>
<rect x="741.9" y="263.2" width="18.5" height="8.9" fill="#fff" stroke="#cfcfcf" stroke-width=".6"/>
<rect x="757.03" y="270.02" width="2.3" height="1.48" fill="#4b2e9e"/>
<rect x="632" y="273.9" width="18.5" height="8.9" fill="#fff" stroke="#cfcfcf" stroke-width=".6"/>
<rect x="633.44" y="281.3" width="2.3" height="0.9" fill="#2a9fd8"/>
<rect x="636.77" y="280.57" width="2.3" height="1.63" fill="#6cc04a"/>
<rect x="640.1" y="281.3" width="2.3" height="0.9" fill="#f5c518"/>
<rect x="643.43" y="281.3" width="2.3" height="0.9" fill="#e8731c"/>
<rect x="646.76" y="281.3" width="2.3" height="0.9" fill="#4b2e9e"/>
<rect x="654" y="273.9" width="18.5" height="8.9" fill="#fff" stroke="#cfcfcf" stroke-width=".6"/>
<rect x="655.44" y="281.3" width="2.3" height="0.9" fill="#2a9fd8"/>
<rect x="658.77" y="280.57" width="2.3" height="1.63" fill="#6cc04a"/>
<rect x="662.1" y="281.3" width="2.3" height="0.9" fill="#f5c518"/>
<rect x="665.43" y="281.3" width="2.3" height="0.9" fill="#e8731c"/>
<rect x="668.76" y="281.3" width="2.3" height="0.9" fill="#4b2e9e"/>
<rect x="675.9" y="273.9" width="18.5" height="8.9" fill="#fff" stroke="#cfcfcf" stroke-width=".6"/>
<rect x="677.34" y="281.3" width="2.3" height="0.9" fill="#bfe2f3"/>
<rect x="680.67" y="281.3" width="2.3" height="0.9" fill="#cfe9bf"/>
<rect x="684" y="281.3" width="2.3" height="0.9" fill="#fbeaa8"/>
<rect x="687.33" y="281.3" width="2.3" height="0.9" fill="#f6cfae"/>
<rect x="690.66" y="281.3" width="2.3" height="0.9" fill="#c4b9e0"/>
<rect x="677.34" y="281.3" width="2.3" height="0.9" fill="#2a9fd8"/>
<rect x="698" y="273.9" width="18.5" height="8.9" fill="#fff" stroke="#cfcfcf" stroke-width=".6"/>
<rect x="709.43" y="278.5" width="2.3" height="3.7" fill="#e8731c"/>
<rect x="712.76" y="281.3" width="2.3" height="0.9" fill="#4b2e9e"/>
<rect x="720" y="273.9" width="18.5" height="8.9" fill="#fff" stroke="#cfcfcf" stroke-width=".6"/>
<rect x="735.13" y="278.5" width="2.3" height="3.7" fill="#4b2e9e"/>
<rect x="741.9" y="273.9" width="18.5" height="8.9" fill="#fff" stroke="#cfcfcf" stroke-width=".6"/>
<rect x="757.03" y="278.5" width="2.3" height="3.7" fill="#4b2e9e"/>
<rect x="632" y="284.5" width="18.5" height="8.9" fill="#fff" stroke="#cfcfcf" stroke-width=".6"/>
<rect x="633.44" y="291.32" width="2.3" height="1.48" fill="#2a9fd8"/>
<rect x="636.77" y="289.47" width="2.3" height="3.33" fill="#6cc04a"/>
<rect x="640.1" y="291.32" width="2.3" height="1.48" fill="#f5c518"/>
<rect x="643.43" y="291.32" width="2.3" height="1.48" fill="#e8731c"/>
<rect x="646.76" y="291.17" width="2.3" height="1.63" fill="#4b2e9e"/>
<rect x="654" y="284.5" width="18.5" height="8.9" fill="#fff" stroke="#cfcfcf" stroke-width=".6"/>
<rect x="655.44" y="291.32" width="2.3" height="1.48" fill="#2a9fd8"/>
<rect x="658.77" y="289.47" width="2.3" height="3.33" fill="#6cc04a"/>
<rect x="662.1" y="291.32" width="2.3" height="1.48" fill="#f5c518"/>
<rect x="665.43" y="291.32" width="2.3" height="1.48" fill="#e8731c"/>
<rect x="668.76" y="291.17" width="2.3" height="1.63" fill="#4b2e9e"/>
<rect x="675.9" y="284.5" width="18.5" height="8.9" fill="#fff" stroke="#cfcfcf" stroke-width=".6"/>
<rect x="677.34" y="289.84" width="2.3" height="2.96" fill="#2a9fd8"/>
<rect x="680.67" y="291.32" width="2.3" height="1.48" fill="#6cc04a"/>
<rect x="684" y="291.32" width="2.3" height="1.48" fill="#f5c518"/>
<rect x="687.33" y="291.32" width="2.3" height="1.48" fill="#e8731c"/>
<rect x="690.66" y="291.17" width="2.3" height="1.63" fill="#4b2e9e"/>
<rect x="698" y="284.5" width="18.5" height="8.9" fill="#fff" stroke="#cfcfcf" stroke-width=".6"/>
<rect x="709.43" y="285.99" width="2.3" height="6.81" fill="#e8731c"/>
<rect x="712.76" y="291.9" width="2.3" height="0.9" fill="#4b2e9e"/>
<rect x="720" y="284.5" width="18.5" height="8.9" fill="#fff" stroke="#cfcfcf" stroke-width=".6"/>
<rect x="735.13" y="285.99" width="2.3" height="6.81" fill="#4b2e9e"/>
<rect x="741.9" y="284.5" width="18.5" height="8.9" fill="#fff" stroke="#cfcfcf" stroke-width=".6"/>
<rect x="757.03" y="285.99" width="2.3" height="6.81" fill="#4b2e9e"/>
<rect x="632" y="295.1" width="18.5" height="8.9" fill="#fff" stroke="#cfcfcf" stroke-width=".6"/>
<rect x="654" y="295.1" width="18.5" height="8.9" fill="#fff" stroke="#cfcfcf" stroke-width=".6"/>
<rect x="675.9" y="295.1" width="18.5" height="8.9" fill="#fff" stroke="#cfcfcf" stroke-width=".6"/>
<rect x="698" y="295.1" width="18.5" height="8.9" fill="#fff" stroke="#cfcfcf" stroke-width=".6"/>
<rect x="709.43" y="302.5" width="2.3" height="0.9" fill="#e8731c"/>
<rect x="720" y="295.1" width="18.5" height="8.9" fill="#fff" stroke="#cfcfcf" stroke-width=".6"/>
<rect x="735.13" y="302.5" width="2.3" height="0.9" fill="#4b2e9e"/>
<rect x="741.9" y="295.1" width="18.5" height="8.9" fill="#fff" stroke="#cfcfcf" stroke-width=".6"/>
<rect x="757.03" y="302.5" width="2.3" height="0.9" fill="#4b2e9e"/>
<rect x="632" y="305.7" width="18.5" height="8.9" fill="#fff" stroke="#cfcfcf" stroke-width=".6"/>
<rect x="654" y="305.7" width="18.5" height="8.9" fill="#fff" stroke="#cfcfcf" stroke-width=".6"/>
<rect x="675.9" y="305.7" width="18.5" height="8.9" fill="#fff" stroke="#cfcfcf" stroke-width=".6"/>
<rect x="698" y="305.7" width="18.5" height="8.9" fill="#fff" stroke="#cfcfcf" stroke-width=".6"/>
<rect x="709.43" y="313.1" width="2.3" height="0.9" fill="#e8731c"/>
<rect x="720" y="305.7" width="18.5" height="8.9" fill="#fff" stroke="#cfcfcf" stroke-width=".6"/>
<rect x="735.13" y="313.1" width="2.3" height="0.9" fill="#4b2e9e"/>
<rect x="741.9" y="305.7" width="18.5" height="8.9" fill="#fff" stroke="#cfcfcf" stroke-width=".6"/>
<rect x="757.03" y="313.1" width="2.3" height="0.9" fill="#4b2e9e"/>
</svg>
<div class="pc" style="left:469px;top:333px;width:144px;height:60px"></div>
<div class="pc" style="left:624px;top:333px;width:145px;height:60px"></div>
<span class="t pt" style="left:474.600px;top:341px"><u>The interaction of</u> <b>Coupon Type</b> and <b>Loyalty Members...</b></span>
<span class="t pt" style="left:474.600px;top:347.400px"><u>drives</u> <b>ProductLine</b>. (Predictive Strength: 65%)</span>
<span class="t pt" style="left:630.400px;top:341px"><b>Coupon Type</b> and <b>Country</b> drive <b>ProductLine</b>. (Predictive</span>
<span class="t pt" style="left:630.400px;top:347.400px">Strength: 64%)</span>
<svg class="abs" style="left:468px;top:355px" width="302" height="40" viewBox="468 355 302 40">
<rect x="476.2" y="360.5" width="18.5" height="16" fill="#fff" stroke="#c4c4c4" stroke-width=".6"/>
<rect x="480.53" y="364.3" width="1.7" height="11.6" fill="#8c8c8c"/>
<rect x="498.3" y="360.5" width="18.5" height="16" fill="#fff" stroke="#c4c4c4" stroke-width=".6"/>
<rect x="502.63" y="364.3" width="1.7" height="11.6" fill="#8c8c8c"/>
<rect x="520.4" y="360.5" width="18.5" height="16" fill="#fff" stroke="#c4c4c4" stroke-width=".6"/>
<rect x="522.51" y="374.74" width="1.7" height="1.16" fill="#8c8c8c"/>
<rect x="525.47" y="374.74" width="1.7" height="1.16" fill="#8c8c8c"/>
<rect x="528.8" y="374.74" width="1.7" height="1.16" fill="#8c8c8c"/>
<rect x="532.5" y="374.16" width="1.7" height="1.74" fill="#6e6e6e"/>
<rect x="535.46" y="373.87" width="1.7" height="2.03" fill="#6e6e6e"/>
<rect x="542.4" y="360.5" width="18.5" height="16" fill="#fff" stroke="#c4c4c4" stroke-width=".6"/>
<rect x="553.76" y="363.57" width="1.7" height="12.32" fill="#6e6e6e"/>
<rect x="557.46" y="375" width="1.7" height="0.9" fill="#6e6e6e"/>
<rect x="564.3" y="360.5" width="18.5" height="16" fill="#fff" stroke="#c4c4c4" stroke-width=".6"/>
<rect x="579.36" y="362.85" width="1.7" height="13.05" fill="#6e6e6e"/>
<rect x="586.1" y="360.5" width="18.5" height="16" fill="#fff" stroke="#c4c4c4" stroke-width=".6"/>
<rect x="601.16" y="362.12" width="1.7" height="13.77" fill="#6e6e6e"/>
<rect x="476.2" y="379" width="18.5" height="16" fill="#fff" stroke="#c4c4c4" stroke-width=".6"/>
<rect x="480.53" y="381.35" width="1.7" height="13.05" fill="#8c8c8c"/>
<rect x="498.3" y="379" width="18.5" height="16" fill="#fff" stroke="#c4c4c4" stroke-width=".6"/>
<rect x="502.63" y="381.35" width="1.7" height="13.05" fill="#8c8c8c"/>
<rect x="520.4" y="379" width="18.5" height="16" fill="#fff" stroke="#c4c4c4" stroke-width=".6"/>
<rect x="542.4" y="379" width="18.5" height="16" fill="#fff" stroke="#c4c4c4" stroke-width=".6"/>
<rect x="553.76" y="381.35" width="1.7" height="13.05" fill="#6e6e6e"/>
<rect x="564.3" y="379" width="18.5" height="16" fill="#fff" stroke="#c4c4c4" stroke-width=".6"/>
<rect x="579.36" y="381.35" width="1.7" height="13.05" fill="#6e6e6e"/>
<rect x="586.1" y="379" width="18.5" height="16" fill="#fff" stroke="#c4c4c4" stroke-width=".6"/>
<rect x="601.16" y="381.35" width="1.7" height="13.05" fill="#6e6e6e"/>
<rect x="632" y="360.5" width="18.5" height="16" fill="#fff" stroke="#c4c4c4" stroke-width=".6"/>
<rect x="633" y="375" width="1.7" height="0.9" fill="#8c8c8c"/>
<rect x="635.59" y="371.84" width="1.7" height="4.06" fill="#8c8c8c"/>
<rect x="638.55" y="375" width="1.7" height="0.9" fill="#8c8c8c"/>
<rect x="641.88" y="374.74" width="1.7" height="1.16" fill="#8c8c8c"/>
<rect x="644.84" y="375" width="1.7" height="0.9" fill="#8c8c8c"/>
<rect x="647.43" y="374.45" width="1.7" height="1.45" fill="#8c8c8c"/>
<rect x="654" y="360.5" width="18.5" height="16" fill="#fff" stroke="#c4c4c4" stroke-width=".6"/>
<rect x="655" y="375" width="1.7" height="0.9" fill="#8c8c8c"/>
<rect x="657.59" y="371.84" width="1.7" height="4.06" fill="#8c8c8c"/>
<rect x="660.55" y="375" width="1.7" height="0.9" fill="#8c8c8c"/>
<rect x="663.88" y="374.74" width="1.7" height="1.16" fill="#8c8c8c"/>
<rect x="666.84" y="375" width="1.7" height="0.9" fill="#8c8c8c"/>
<rect x="669.43" y="374.45" width="1.7" height="1.45" fill="#8c8c8c"/>
<rect x="675.9" y="360.5" width="18.5" height="16" fill="#fff" stroke="#c4c4c4" stroke-width=".6"/>
<rect x="676.9" y="374.16" width="1.7" height="1.74" fill="#8c8c8c"/>
<rect x="679.49" y="374.45" width="1.7" height="1.45" fill="#8c8c8c"/>
<rect x="682.45" y="374.74" width="1.7" height="1.16" fill="#8c8c8c"/>
<rect x="685.78" y="374.74" width="1.7" height="1.16" fill="#8c8c8c"/>
<rect x="688.74" y="374.45" width="1.7" height="1.45" fill="#8c8c8c"/>
<rect x="691.33" y="374.16" width="1.7" height="1.74" fill="#8c8c8c"/>
<rect x="698" y="360.5" width="18.5" height="16" fill="#fff" stroke="#c4c4c4" stroke-width=".6"/>
<rect x="709.36" y="364.3" width="1.7" height="11.6" fill="#8c8c8c"/>
<rect x="713.06" y="375" width="1.7" height="0.9" fill="#6e6e6e"/>
<rect x="720" y="360.5" width="18.5" height="16" fill="#fff" stroke="#c4c4c4" stroke-width=".6"/>
<rect x="735.06" y="365.46" width="1.7" height="10.44" fill="#8c8c8c"/>
<rect x="741.9" y="360.5" width="18.5" height="16" fill="#fff" stroke="#c4c4c4" stroke-width=".6"/>
<rect x="756.96" y="364.3" width="1.7" height="11.6" fill="#8c8c8c"/>
<rect x="632" y="379" width="18.5" height="16" fill="#fff" stroke="#c4c4c4" stroke-width=".6"/>
<rect x="654" y="379" width="18.5" height="16" fill="#fff" stroke="#c4c4c4" stroke-width=".6"/>
<rect x="675.9" y="379" width="18.5" height="16" fill="#fff" stroke="#c4c4c4" stroke-width=".6"/>
<rect x="698" y="379" width="18.5" height="16" fill="#fff" stroke="#c4c4c4" stroke-width=".6"/>
<rect x="709.36" y="380.62" width="1.7" height="13.77" fill="#8c8c8c"/>
<rect x="720" y="379" width="18.5" height="16" fill="#fff" stroke="#c4c4c4" stroke-width=".6"/>
<rect x="735.06" y="380.62" width="1.7" height="13.77" fill="#8c8c8c"/>
<rect x="741.9" y="379" width="18.5" height="16" fill="#fff" stroke="#c4c4c4" stroke-width=".6"/>
<rect x="756.96" y="380.62" width="1.7" height="13.77" fill="#8c8c8c"/>
</svg>
<div class="abs" style="left:462px;top:383px;width:316px;height:3px;background:linear-gradient(rgba(255,255,255,0),#fff)"></div>
<div class="abs" style="left:462px;top:385.500px;width:316px;height:30px;background:#fff"></div>
<svg class="abs" style="left:608px;top:386px" width="22" height="13" viewBox="0 0 22 13"><path d="M2.700 3.300 10.400 11 18.100 3.300" fill="none" stroke="#8c8c8c" stroke-width="1.100"/></svg>
<div id="bot">
<div class="tab" style="left:0px;width:15.4px">
<svg class="abs" style="left:2.7px;top:4.600px" width="8" height="8" viewBox="0 0 8 8"><circle cx="3.400" cy="3.400" r="2" fill="none" stroke="#555" stroke-width=".9"/><path d="M4.900 4.900 6.800 6.800" stroke="#555" stroke-width="1.100"/></svg>
</div>
<div class="tab" style="left:15.4px;width:16.6px">
<svg class="abs" style="left:3.7px;top:4.600px" width="8" height="8" viewBox="0 0 8 8"><path d="M2.700 1v5.800M1.700 5.700 2.700 6.900 3.700 5.700M5.700 7V1.200M4.700 2.300 5.700 1.100 6.700 2.300" fill="none" stroke="#555" stroke-width=".95"/></svg>
</div>
<div class="tab" style="left:32px;width:15.9px">
<svg class="abs" style="left:4.1px;top:5px" width="6" height="7" viewBox="0 0 6 7"><path d="M3.900 1.200 1.700 3.500 3.900 5.800" fill="none" stroke="#c0c0c0" stroke-width=".9"/></svg>
</div>
<div class="tab" style="left:47.9px;width:49.8px">
<svg class="abs" style="left:4.3px;top:3.200px" width="8" height="8" viewBox="0 0 8 8"><circle cx="4" cy="4" r="2.700" fill="none" stroke="#777" stroke-width=".6"/><circle cx="4" cy="4" r="1.200" fill="#777"/></svg>
<span class="t tl" style="left:14px">ProductLine</span>
</div>
<div class="tab" style="left:97.7px;width:39.1px">
<svg class="abs" style="left:5.1px;top:5px" width="7" height="7" viewBox="0 0 7 7"><path d="M.9 .8 4 4" fill="none" stroke="#1e9fe0" stroke-width="1.900"/><path d="M6.100 1.400V6.400H1.100z" fill="#1e9fe0"/></svg>
<span class="t tl" style="left:14px">Country</span>
</div>
<div class="tab" style="left:136.8px;width:53px">
<svg class="abs" style="left:5.6px;top:5px" width="7" height="7" viewBox="0 0 7 7"><path d="M.9 .8 4 4" fill="none" stroke="#1e9fe0" stroke-width="1.900"/><path d="M6.100 1.400V6.400H1.100z" fill="#1e9fe0"/></svg>
<span class="t tl" style="left:14.5px">Coupon Type</span>
</div>
<div class="tab" style="left:189.8px;width:68px">
<svg class="abs" style="left:3.4px;top:5px" width="7" height="7" viewBox="0 0 7 7"><path d="M.9 .8 4 4" fill="none" stroke="#1e9fe0" stroke-width="1.900"/><path d="M6.100 1.400V6.400H1.100z" fill="#1e9fe0"/></svg>
<span class="t tl" style="left:13.1px">Customer Profita..</span>
</div>
<div class="tab" style="left:257.8px;width:44.2px">
<svg class="abs" style="left:5.1px;top:5px" width="7" height="7" viewBox="0 0 7 7"><path d="M.9 .8 4 4" fill="none" stroke="#1e9fe0" stroke-width="1.900"/><path d="M6.100 1.400V6.400H1.100z" fill="#1e9fe0"/></svg>
<span class="t tl" style="left:14.8px">Education</span>
</div>
<div class="tab" style="left:302px;width:37.5px">
<svg class="abs" style="left:5.4px;top:5px" width="7" height="7" viewBox="0 0 7 7"><path d="M.9 .8 4 4" fill="none" stroke="#1e9fe0" stroke-width="1.900"/><path d="M6.100 1.400V6.400H1.100z" fill="#1e9fe0"/></svg>
<span class="t tl" style="left:15px">Gender</span>
</div>
<div class="tab" style="left:339.5px;width:52.1px">
<svg class="abs" style="left:5.7px;top:5px" width="7" height="7" viewBox="0 0 7 7"><path d="M.9 .8 4 4" fill="none" stroke="#1e9fe0" stroke-width="1.900"/><path d="M6.100 1.400V6.400H1.100z" fill="#1e9fe0"/></svg>
<span class="t tl" style="left:15.4px">Lead Source</span>
</div>
<div class="tab" style="left:391.6px;width:68.4px">
<svg class="abs" style="left:4.9px;top:5px" width="7" height="7" viewBox="0 0 7 7"><path d="M.9 .8 4 4" fill="none" stroke="#1e9fe0" stroke-width="1.900"/><path d="M6.100 1.400V6.400H1.100z" fill="#1e9fe0"/></svg>
<span class="t tl" style="left:14.6px">Loyalty Members..</span>
</div>
<div class="tab" style="left:460px;width:53px">
<svg class="abs" style="left:5.7px;top:5px" width="7" height="7" viewBox="0 0 7 7"><path d="M.9 .8 4 4" fill="none" stroke="#1e9fe0" stroke-width="1.900"/><path d="M6.100 1.400V6.400H1.100z" fill="#1e9fe0"/></svg>
<span class="t tl" style="left:14.6px">MaritalStatus</span>
</div>
<div class="tab" style="left:513px;width:49.7px">
<svg class="abs" style="left:5.4px;top:3.600px" width="8" height="8" viewBox="0 0 8 8"><path d="M6.600 2H2.800a1.200 1.200 0 0 0-1.200 1.200v1.400a1.200 1.200 0 0 0 1.200 1.200h3.800V3.900H4.300" fill="none" stroke="#f6b01c" stroke-width="1.600"/></svg>
<span class="t tl" style="left:14.7px">CustomerID</span>
</div>
<div class="abs" style="left:762px;top:0;width:11px;height:17px;background:#efefef;border-left:.8px solid #d8d8d8"><svg class="abs" style="left:3px;top:5px" width="6" height="7" viewBox="0 0 6 7"><path d="M2 .8 4.500 3.500 2 6.200" fill="none" stroke="#9a9a9a" stroke-width=".8"/></svg></div>
</div>
</body>
</html>
